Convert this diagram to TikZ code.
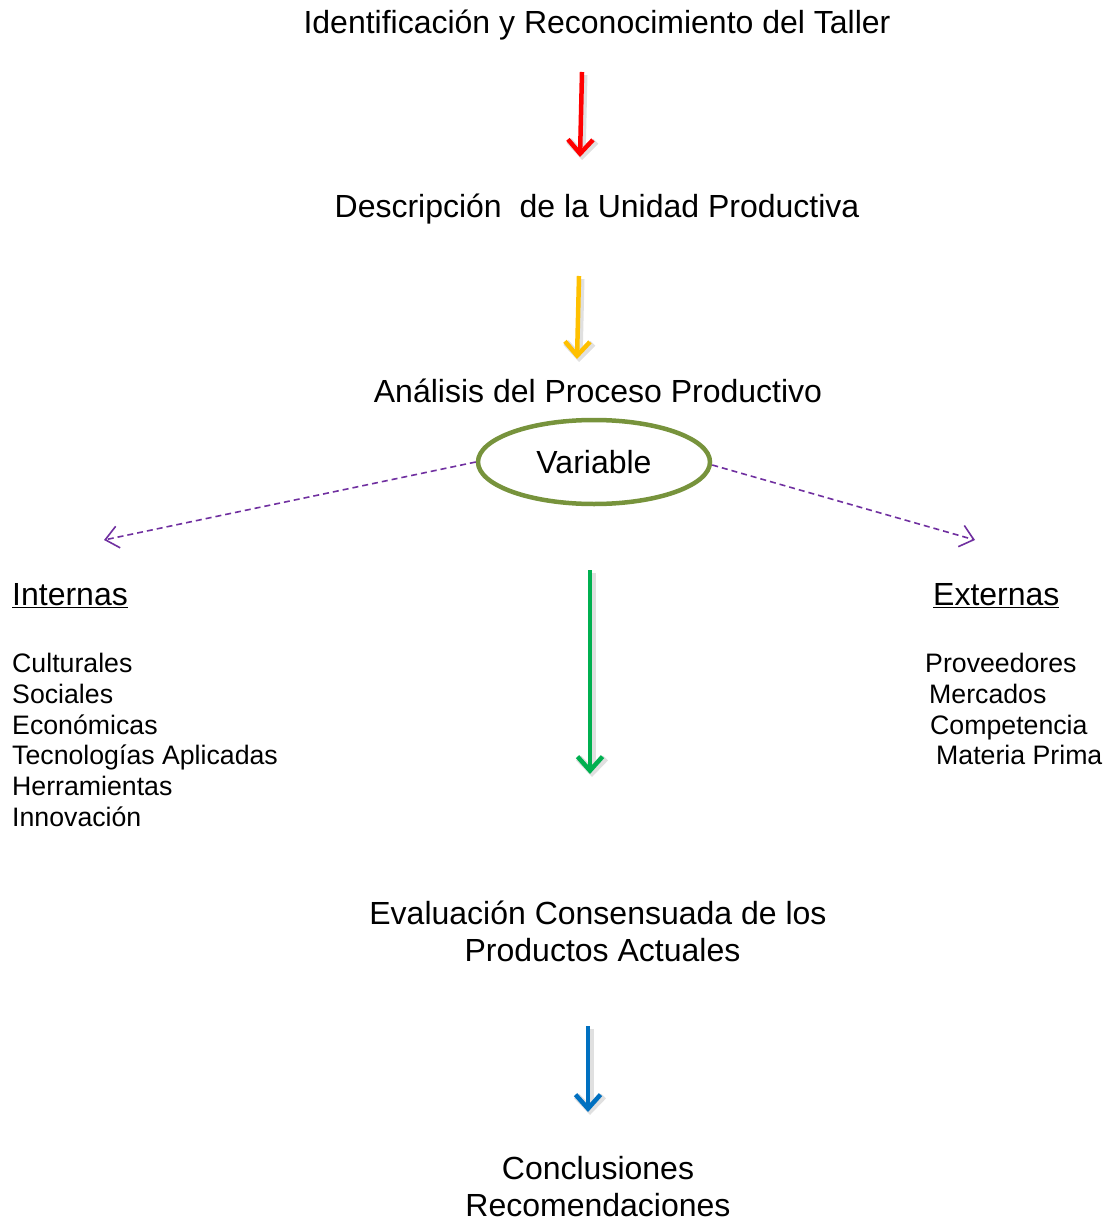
\documentclass[tikz,border=0pt]{standalone}
\usepackage{fontspec}
\setmainfont{Liberation Sans}
\usetikzlibrary{arrows.meta,shapes.geometric}
\definecolor{cred}{HTML}{FF0000}
\definecolor{corange}{HTML}{FFC000}
\definecolor{cgreen}{HTML}{00B050}
\definecolor{cblue}{HTML}{0070C0}
\definecolor{cpurple}{HTML}{7030A0}
\definecolor{colive}{HTML}{77933C}
\tikzset{
  big/.style={inner sep=0pt, anchor=base, font=\fontsize{32}{37}\selectfont},
  bigl/.style={inner sep=0pt, anchor=base west, font=\fontsize{32}{37}\selectfont},
  item/.style={inner sep=0pt, anchor=base west, font=\fontsize{26.7}{30}\selectfont},
  flow/.style={line width=4.5pt, -{Straight Barb[length=14pt,width=25pt]}},
  shade/.style={line width=7pt, draw=black!12, -{Straight Barb[length=14pt,width=27pt]}},
  dasharrow/.style={cpurple, line width=1.6pt, dash pattern=on 6pt off 4pt, -{Straight Barb[length=13pt,width=22pt,line width=1.6pt]}},
}
\begin{document}
\begin{tikzpicture}[x=1pt,y=-1pt]
\useasboundingbox (0,0) rectangle (1104,1222);
% texts
\node[big] (t1) at (597,34) {Identificación y Reconocimiento del Taller};
\node[big] (t2) at (597,218) {Descripción\ \ de la Unidad Productiva};
\node[big] (t3) at (598,402) {Análisis del Proceso Productivo};
\node[ellipse, draw=colive, line width=4.5pt, minimum width=232pt, minimum height=84pt, inner sep=0pt,
      font=\fontsize{32}{37}\selectfont] (var) at (594,462) {Variable};
\node[bigl] (int) at (12,605) {\underline{Internas}};
\node[bigl] (ext) at (933,605) {\underline{Externas}};
\node[item] (i1) at (12,672) {Culturales};
\node[item] (i2) at (12,703) {Sociales};
\node[item] (i3) at (12,734) {Económicas};
\node[item] (i4) at (12,764) {Tecnologías Aplicadas};
\node[item] (i5) at (12,795) {Herramientas};
\node[item] (i6) at (12,826) {Innovación};
\node[item] (e1) at (925,672) {Proveedores};
\node[item] (e2) at (929,703) {Mercados};
\node[item] (e3) at (930,734) {Competencia};
\node[item] (e4) at (936,764) {Materia Prima};
\node[big, align=center, anchor=center] (t4) at (598,931) {Evaluación Consensuada de los\\\hspace*{9pt}Productos Actuales};
\node[big, align=center, anchor=center] (t5) at (598,1187) {Conclusiones\\Recomendaciones};
% arrow end points
\coordinate (a1s) at (582,72);  \coordinate (a1e) at (580,157);
\coordinate (a2s) at (579,276); \coordinate (a2e) at (577,359);
\coordinate (a3s) at (590,570); \coordinate (a3e) at (590,774);
\coordinate (a4s) at (588,1026);\coordinate (a4e) at (588,1112);
\coordinate (dl) at (104,540);
\coordinate (dr) at (975,540);
% shadows
\draw[shade] ([shift={(2,3)}]a1s) -- ([shift={(2,3)}]a1e);
\draw[shade] ([shift={(2,3)}]a2s) -- ([shift={(2,3)}]a2e);
\draw[shade] ([shift={(2,3)}]a3s) -- ([shift={(2,3)}]a3e);
\draw[shade] ([shift={(2,3)}]a4s) -- ([shift={(2,3)}]a4e);
% flow arrows
\draw[flow, cred] (a1s) -- (a1e);
\draw[flow, corange] (a2s) -- (a2e);
\draw[flow, cgreen] (a3s) -- (a3e);
\draw[flow, cblue] (a4s) -- (a4e);
% dashed arrows
\draw[dasharrow] (var.west) -- (dl);
\draw[dasharrow] ([yshift=-3pt]var.east) -- (dr);
\end{tikzpicture}
\end{document}
